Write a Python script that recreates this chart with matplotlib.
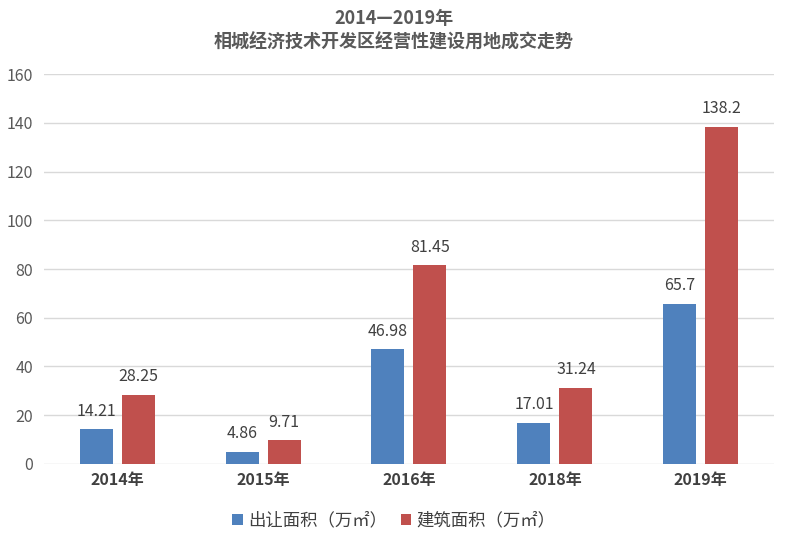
import matplotlib.pyplot as plt
import numpy as np

plt.rcParams['font.family'] = ['Noto Sans CJK SC', 'DejaVu Sans']

years = ["2014年", "2015年", "2016年", "2018年", "2019年"]
sold_area = [14.21, 4.86, 46.98, 17.01, 65.7]
build_area = [28.25, 9.71, 81.45, 31.24, 138.2]
sold_labels = ["14.21", "4.86", "46.98", "17.01", "65.7"]
build_labels = ["28.25", "9.71", "81.45", "31.24", "138.2"]
yticks = [0, 20, 40, 60, 80, 100, 120, 140, 160]

fig = plt.figure(figsize=(7.88, 5.43), dpi=100)
ax = fig.add_axes([0.056, 0.1455, 0.926, 0.7182])

x = np.arange(len(years))
w = 0.226
off = 0.144
b1 = ax.bar(x - off, sold_area, w, color="#4F81BD", label="出让面积（万㎡）", zorder=3)
b2 = ax.bar(x + off, build_area, w, color="#C0504D", label="建筑面积（万㎡）", zorder=3)

for bars, labels in [(b1, sold_labels), (b2, build_labels)]:
    for bar, lab in zip(bars, labels):
        ax.text(bar.get_x() + bar.get_width() / 2, bar.get_height() + 4, lab,
                ha="center", va="bottom", fontsize=11.5, color="#404040")

ax.set_xlim(-0.5, len(years) - 0.5)
ax.set_ylim(0, 160)
ax.set_yticks(yticks)
ax.set_xticks(x)
ax.set_xticklabels(years, fontsize=11.5, fontweight="bold", color="#404040")
ax.tick_params(axis="y", labelsize=11.5, labelcolor="#595959", length=0, pad=8)
ax.tick_params(axis="x", length=0, pad=6)
ax.grid(axis="y", color="#D9D9D9", linewidth=1, zorder=0)
for s in ax.spines.values():
    s.set_visible(False)

fig.text(0.5, 0.966, "2014—2019年", ha="center", va="center",
         fontsize=13, fontweight="bold", color="#595959")
fig.text(0.5, 0.922, "相城经济技术开发区经营性建设用地成交走势", ha="center", va="center",
         fontsize=13, fontweight="bold", color="#595959")

fig.legend(handles=[b1, b2], loc="center", bbox_to_anchor=(0.5, 0.042), ncol=2,
           frameon=False, fontsize=12.5, handlelength=0.6, handleheight=0.6,
           handletextpad=0.3, columnspacing=0.8, labelcolor="#404040")

fig.savefig("out.png", dpi=100)
